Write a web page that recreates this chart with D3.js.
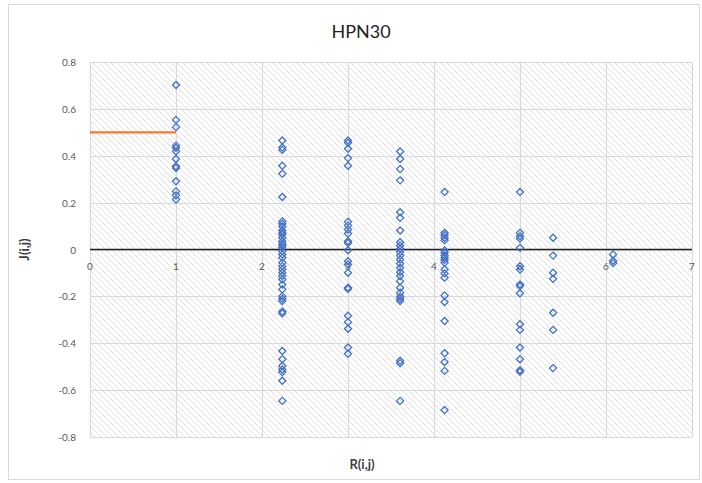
<!DOCTYPE html>
<html>
<head>
<meta charset="utf-8">
<script src="https://cdn.jsdelivr.net/npm/d3@7"></script>
<style>
  body { margin: 0; background: #fff; }
  text { font-family: Lato, "Open Sans", sans-serif; }
</style>
</head>
<body>
<div id="chart"></div>
<script>
// R(i,j) values where points are stacked
const rValues = [1, 2.236, 3, 3.606, 4.123, 5, 5.385, 6.083];

// J(i,j) values
const jAtR1 = [0.702, 0.553, 0.522, 0.443, 0.433, 0.418, 0.386, 0.355, 0.348, 0.291, 0.248, 0.231, 0.213];
const jAtR2 = [0.465, 0.435, 0.425, 0.357, 0.323, 0.224, 0.12, 0.11, 0.098, 0.081, 0.072, 0.064, 0.05, 0.035,
               0.025, 0.017, 0.007, -0.007, -0.021, -0.035, -0.057, -0.071, -0.085, -0.099, -0.113, -0.128,
               -0.149, -0.17, -0.199, -0.21, -0.22, -0.265, -0.272, -0.433, -0.468, -0.497, -0.512, -0.523,
               -0.56, -0.646];
const jAtR3 = [0.465, 0.455, 0.43, 0.39, 0.357, 0.118, 0.102, 0.085, 0.068, 0.035, 0.028, -0.003, -0.05,
               -0.064, -0.099, -0.163, -0.168, -0.283, -0.31, -0.338, -0.418, -0.445];
const jAtR4 = [0.418, 0.386, 0.343, 0.295, 0.159, 0.135, 0.081, 0.031, 0.017, 0.003, -0.011, -0.026, -0.043,
               -0.06, -0.078, -0.097, -0.113, -0.135, -0.163, -0.184, -0.201, -0.21, -0.22, -0.475, -0.485,
               -0.646];
const jAtR5 = [0.245, 0.071, 0.062, 0.05, 0.04, -0.004, -0.014, -0.026, -0.035, -0.045, -0.057, -0.085,
               -0.102, -0.12, -0.196, -0.224, -0.305, -0.443, -0.48, -0.518, -0.685];
const jAtR6 = [0.245, 0.071, 0.057, 0.047, 0.007, -0.071, -0.085, -0.149, -0.156, -0.187, -0.319, -0.343,
               -0.418, -0.468, -0.515, -0.522];
const jAtR7 = [0.05, -0.026, -0.099, -0.125, -0.27, -0.343, -0.506];
const jAtR8 = [-0.021, -0.048, -0.058];

// orange reference segment
const refLineX = [0, 1];
const refLineY = [0.5, 0.5];

const xTicks = [0, 1, 2, 3, 4, 5, 6, 7];
const yTicks = [0.8, 0.6, 0.4, 0.2, 0, -0.2, -0.4, -0.6, -0.8];

const columns = [jAtR1, jAtR2, jAtR3, jAtR4, jAtR5, jAtR6, jAtR7, jAtR8];
const points = [];
columns.forEach((col, i) => col.forEach(j => points.push({ r: rValues[i], j: j })));

const width = 702, height = 483;
const plot = { left: 90, right: 692, top: 62, bottom: 437 };

const svg = d3.select("#chart").append("svg")
    .attr("width", width)
    .attr("height", height);

// hatch pattern for the plot area
const defs = svg.append("defs");
defs.append("pattern")
    .attr("id", "hatch")
    .attr("patternUnits", "userSpaceOnUse")
    .attr("width", 6)
    .attr("height", 6)
    .append("path")
    .attr("d", "M0,0 L6,6 M-1,5 L1,7 M5,-1 L7,1")
    .attr("stroke", "#dedede")
    .attr("stroke-width", 1);

// chart border
svg.append("rect")
    .attr("x", 8.5).attr("y", 4.5)
    .attr("width", 691).attr("height", 475)
    .attr("fill", "#fff")
    .attr("stroke", "#d9d9d9");

const x = d3.scaleLinear().domain([0, 7]).range([plot.left, plot.right]);
const y = d3.scaleLinear().domain([-0.8, 0.8]).range([plot.bottom, plot.top]);

svg.append("rect")
    .attr("x", plot.left).attr("y", plot.top)
    .attr("width", plot.right - plot.left).attr("height", plot.bottom - plot.top)
    .attr("fill", "url(#hatch)");

// gridlines
svg.append("g")
    .selectAll("line.h")
    .data(yTicks)
    .enter().append("line")
    .attr("x1", plot.left).attr("x2", plot.right)
    .attr("y1", d => Math.round(y(d)) + 0.5).attr("y2", d => Math.round(y(d)) + 0.5)
    .attr("stroke", "#d9d9d9").attr("stroke-width", 1.2);

svg.append("g")
    .selectAll("line.v")
    .data(xTicks)
    .enter().append("line")
    .attr("y1", plot.top).attr("y2", plot.bottom)
    .attr("x1", d => Math.round(x(d)) + 0.5).attr("x2", d => Math.round(x(d)) + 0.5)
    .attr("stroke", "#d9d9d9").attr("stroke-width", 1.2);

// zero axis line
svg.append("line")
    .attr("x1", plot.left).attr("x2", plot.right)
    .attr("y1", y(0)).attr("y2", y(0))
    .attr("stroke", "#222").attr("stroke-width", 1.3);

// tick labels
svg.append("g")
    .selectAll("text")
    .data(yTicks)
    .enter().append("text")
    .attr("x", 76)
    .attr("y", d => y(d) + 4)
    .attr("text-anchor", "end")
    .style("font-size", "10px")
    .style("fill", "#595959")
    .text(d => d3.format(".1f")(d).replace("−", "-").replace("0.0", "0"));

svg.append("g")
    .selectAll("text")
    .data(xTicks)
    .enter().append("text")
    .attr("x", d => x(d))
    .attr("y", y(0) + 20)
    .attr("text-anchor", "middle")
    .style("font-size", "10px")
    .style("fill", "#595959")
    .text(d => d);

// orange segment
svg.append("path")
    .datum(refLineX.map((v, i) => [v, refLineY[i]]))
    .attr("d", d3.line().x(d => x(d[0])).y(d => y(d[1])))
    .attr("stroke", "#ED7D31")
    .attr("stroke-width", 2.2)
    .attr("fill", "none");

// diamond markers
const diamond = d3.symbol().type(d3.symbolDiamond2).size(32);
svg.append("g")
    .selectAll("path")
    .data(points)
    .enter().append("path")
    .attr("transform", d => `translate(${x(d.r)},${y(d.j)})`)
    .attr("d", diamond)
    .attr("fill", "none")
    .attr("stroke", "#4472C4")
    .attr("stroke-width", 1.3);

// titles
svg.append("text")
    .attr("x", 361).attr("y", 38)
    .attr("text-anchor", "middle")
    .style("font-size", "18px")
    .style("fill", "#222")
    .text("HPN30");

svg.append("text")
    .attr("x", 362).attr("y", 469)
    .attr("text-anchor", "middle")
    .style("font-size", "13px")
    .style("font-weight", "bold")
    .style("fill", "#404040")
    .text("R(i,j)");

svg.append("text")
    .attr("transform", `translate(29,${y(0)}) rotate(-90)`)
    .attr("text-anchor", "middle")
    .style("font-size", "13px")
    .style("font-weight", "bold")
    .style("fill", "#404040")
    .text("J(i,j)");
</script>
</body>
</html>
